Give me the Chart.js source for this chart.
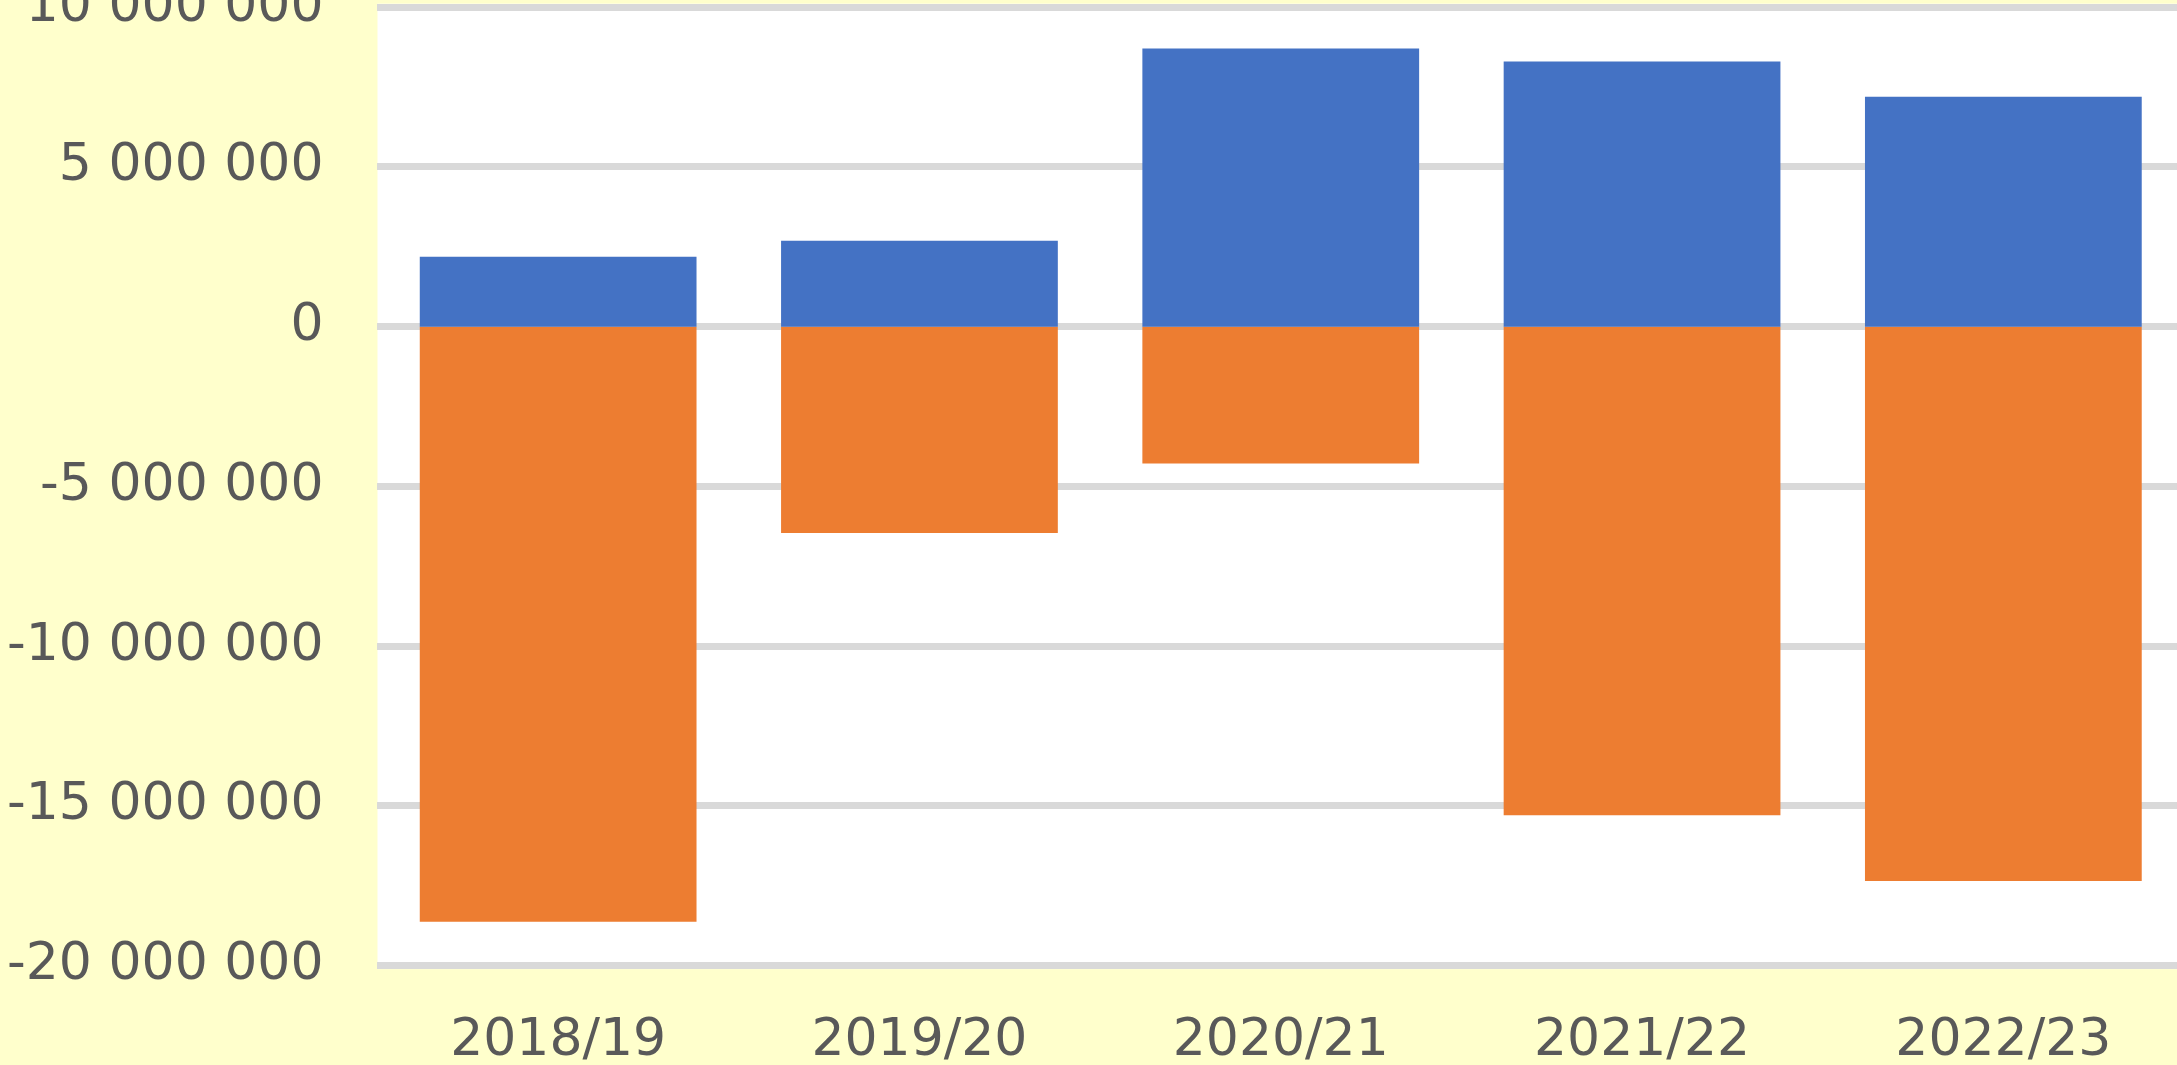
<!DOCTYPE html>
<html><head><meta charset="utf-8">
<script src="https://cdn.jsdelivr.net/npm/chart.js@4"></script>
<style>
html,body{margin:0;padding:0;width:2177px;height:1065px;overflow:hidden;background:#FFFFCC;}
#wrap{position:absolute;left:0;top:0;}
canvas{display:block;}
</style></head><body>
<div id="wrap"><canvas id="c" width="2200" height="1100"></canvas></div>
<script>
const categories = ['2018/19', '2019/20', '2020/21', '2021/22', '2022/23'];
const positiveSeries = [2190000, 2690000, 8710000, 8300000, 7200000];
const negativeSeries = [-18630000, -6460000, -4280000, -15290000, -17350000];
const yTickValues = [-20000000, -15000000, -10000000, -5000000, 0, 5000000, 10000000];
const yTickLabels = ['-20 000 000', '-15 000 000', '-10 000 000', '-5 000 000', '0', '5 000 000', '10 000 000'];

const TARGET = {left: 377, top: 7, width: 1807, height: 958};
const FONT = {family: '"DejaVu Sans"', size: 52};
const TEXT = '#595959';

const plotBg = {
  id: 'plotBg',
  beforeDraw(chart) {
    const {ctx, chartArea: a} = chart;
    ctx.save();
    ctx.fillStyle = '#FFFFFF';
    ctx.fillRect(a.left, a.top - 3.5, a.right - a.left + 60, a.bottom - a.top + 7);
    ctx.restore();
  }
};

function config() {
  return {
    type: 'bar',
    data: {
      labels: categories,
      datasets: [
        {data: positiveSeries, backgroundColor: '#4472C4', stack: 's', categoryPercentage: 1, barPercentage: 0.766},
        {data: negativeSeries, backgroundColor: '#ED7D31', stack: 's', categoryPercentage: 1, barPercentage: 0.766}
      ]
    },
    options: {
      responsive: false,
      maintainAspectRatio: false,
      animation: false,
      layout: {padding: 0},
      plugins: {legend: {display: false}, tooltip: {enabled: false}, title: {display: false}},
      scales: {
        x: {
          stacked: true,
          grid: {display: false},
          border: {display: false},
          ticks: {font: FONT, color: TEXT, padding: 37, maxRotation: 0, autoSkip: false}
        },
        y: {
          stacked: true,
          min: -20000000,
          max: 10000000,
          // the zero tick is nudged by a negligible amount so that Chart.js does not
          // cut half a gridline off the bars that start at zero
          afterBuildTicks(scale) { scale.ticks = yTickValues.map(v => ({value: v === 0 ? 0.001 : v})); },
          grid: {color: '#D9D9D9', lineWidth: 7, drawTicks: false},
          border: {display: false},
          ticks: {
            font: FONT, color: TEXT, padding: 54,
            callback(v, i) { return yTickLabels[i]; }
          }
        }
      }
    },
    plugins: [plotBg]
  };
}

function makeChart(w, h) {
  const cv = document.getElementById('c');
  cv.width = w; cv.height = h;
  cv.style.width = w + 'px'; cv.style.height = h + 'px';
  return new Chart(cv, config());
}

let W = 2200, H = 1100;
let chart = makeChart(W, H);
let a = chart.chartArea;
W = Math.round(W + TARGET.width - (a.right - a.left));
H = Math.round(H + TARGET.height - (a.bottom - a.top));
chart.destroy();
chart = makeChart(W, H);
a = chart.chartArea;
const wrap = document.getElementById('wrap');
wrap.style.left = (TARGET.left - a.left) + 'px';
wrap.style.top = (TARGET.top - a.top) + 'px';
</script>
</body></html>
